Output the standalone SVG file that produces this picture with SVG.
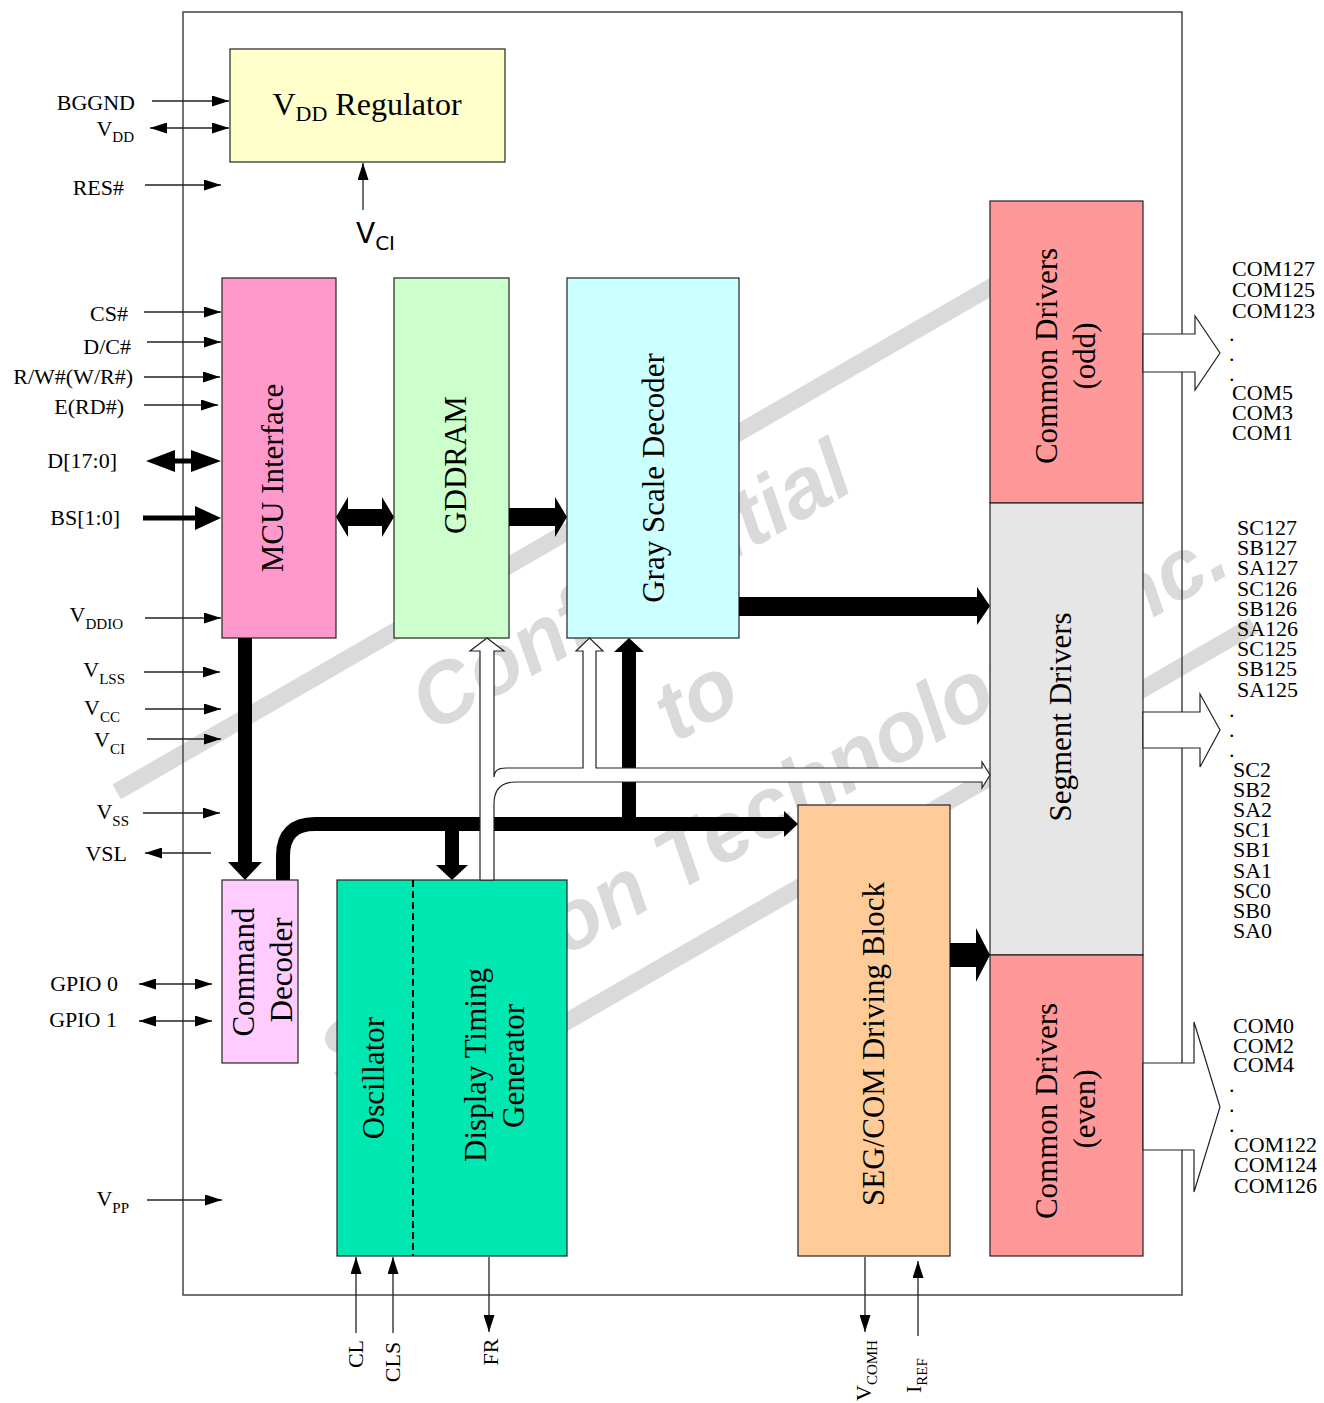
<svg xmlns="http://www.w3.org/2000/svg" width="1324" height="1403" viewBox="0 0 1324 1403">
<defs>
<marker id="ah" markerUnits="userSpaceOnUse" markerWidth="17" markerHeight="11" refX="17" refY="5.5" orient="auto-start-reverse"><path d="M0,0 L17,5.5 L0,11 z" fill="#000"/></marker>
</defs>
<style>
.t{font-family:"Liberation Serif","Times New Roman",serif;fill:#000}
.pin{font-size:22px}
.blk{font-size:31px}
.box{stroke:#222;stroke-width:1.2}
.w{stroke:#222;stroke-width:1.3;fill:none;marker-end:url(#ah)}
.wd{stroke:#222;stroke-width:1.3;fill:none;marker-end:url(#ah);marker-start:url(#ah)}
.bk{fill:#000;stroke:none}
.hol{fill:#fff;stroke:#222;stroke-width:1.2}
.wm{font-family:"Liberation Sans",Arial,sans-serif;font-weight:bold;font-style:italic;font-size:85px;fill:#dadada}
</style>
<rect width="1324" height="1403" fill="#fff"/>
<g id="watermark" transform="translate(630,585) rotate(-30)">
<rect x="-548" y="-86" width="1068" height="17" fill="#dadada"/>
<rect x="-520" y="338" width="1040" height="17" fill="#dadada"/>
<text class="wm" x="0" y="30" text-anchor="middle">Confidential</text>
<text class="wm" x="0" y="160" text-anchor="middle">to</text>
<text class="wm" x="14" y="290" text-anchor="middle" font-size="80">Solomon Technology Inc.</text>
</g>
<g id="chip"><rect x="183" y="12" width="999" height="1283" fill="none" stroke="#444" stroke-width="1.5"/></g>

<g id="vdd-regulator"><rect class="box" x="230" y="49" width="275" height="113" fill="#ffffcc"/>
<text class="t" x="367" y="115" font-size="32" text-anchor="middle">V<tspan font-size="22" dy="6">DD</tspan><tspan dy="-6"> Regulator</tspan></text></g>
<g id="mcu-interface"><rect class="box" x="222" y="278" width="114" height="360" fill="#ff99cc"/>
<text class="t blk" transform="translate(283,478) rotate(-90)" text-anchor="middle">MCU Interface</text></g>
<g id="gddram"><rect class="box" x="394" y="278" width="115" height="360" fill="#ccffcc"/>
<text class="t blk" transform="translate(466,465) rotate(-90)" text-anchor="middle">GDDRAM</text></g>
<g id="gray-scale-decoder"><rect class="box" x="567" y="278" width="172" height="360" fill="#ccffff"/>
<text class="t blk" transform="translate(664,478) rotate(-90)" text-anchor="middle">Gray Scale Decoder</text></g>
<g id="common-drivers-odd"><rect class="box" x="990" y="201" width="153" height="302" fill="#ff9999"/>
<text class="t blk" transform="translate(1057,356) rotate(-90)" text-anchor="middle">Common Drivers</text>
<text class="t blk" transform="translate(1095,356) rotate(-90)" text-anchor="middle">(odd)</text></g>
<g id="segment-drivers"><rect class="box" x="990" y="503" width="153" height="452" fill="#e6e6e6"/>
<text class="t blk" transform="translate(1071,717) rotate(-90)" text-anchor="middle">Segment Drivers</text></g>
<g id="common-drivers-even"><rect class="box" x="990" y="955" width="153" height="301" fill="#ff9999"/>
<text class="t blk" transform="translate(1057,1111) rotate(-90)" text-anchor="middle">Common Drivers</text>
<text class="t blk" transform="translate(1095,1109) rotate(-90)" text-anchor="middle">(even)</text></g>
<g id="seg-com-driving-block"><rect class="box" x="798" y="805" width="152" height="451" fill="#ffcc99"/>
<text class="t blk" transform="translate(884,1044) rotate(-90)" text-anchor="middle">SEG/COM Driving Block</text></g>
<g id="command-decoder"><rect class="box" x="222" y="880" width="76" height="183" fill="#ffccff"/>
<text class="t blk" transform="translate(254,972) rotate(-90)" text-anchor="middle">Command</text>
<text class="t blk" transform="translate(292,970) rotate(-90)" text-anchor="middle">Decoder</text></g>
<g id="oscillator-display-timing"><rect class="box" x="337" y="880" width="230" height="376" fill="#00e8b2"/>
<line x1="413" y1="880" x2="413" y2="1256" stroke="#000" stroke-width="2" stroke-dasharray="7,4"/>
<text class="t blk" transform="translate(384,1078) rotate(-90)" text-anchor="middle">Oscillator</text>
<text class="t blk" transform="translate(486,1065) rotate(-90)" text-anchor="middle">Display Timing</text>
<text class="t blk" transform="translate(524,1066) rotate(-90)" text-anchor="middle">Generator</text></g>

<g id="connectors">
<line class="w" x1="152" y1="101" x2="229" y2="101"/>
<line class="wd" x1="150" y1="128" x2="229" y2="128"/>
<line class="w" x1="145" y1="185" x2="221" y2="185"/>
<line class="w" x1="363" y1="210" x2="363" y2="163"/>
<line class="w" x1="144" y1="312" x2="221" y2="312"/>
<line class="w" x1="147" y1="342" x2="221" y2="342"/>
<line class="w" x1="144" y1="377" x2="220" y2="377"/>
<line class="w" x1="144" y1="405" x2="218" y2="405"/>
<polygon class="bk" points="146,461 175,450 175,458.5 191,458.5 191,450 221,461 191,472 191,463.5 175,463.5 175,472"/>
<polygon class="bk" points="143,515.5 195,515.5 195,506 221,518 195,530 195,520.5 143,520.5"/>
<line class="w" x1="145" y1="618" x2="221" y2="618"/>
<line class="w" x1="144" y1="672" x2="220" y2="672"/>
<line class="w" x1="145" y1="709" x2="221" y2="709"/>
<line class="w" x1="147" y1="739" x2="221" y2="739"/>
<line class="w" x1="143" y1="813" x2="220" y2="813"/>
<line class="w" x1="211" y1="853" x2="145" y2="853"/>
<line class="wd" x1="139" y1="984" x2="212" y2="984"/>
<line class="wd" x1="139" y1="1021" x2="212" y2="1021"/>
<line class="w" x1="147" y1="1200" x2="222" y2="1200"/>
<line class="w" x1="356" y1="1333" x2="356" y2="1257"/>
<line class="w" x1="393" y1="1333" x2="393" y2="1257"/>
<line class="w" x1="489" y1="1257" x2="489" y2="1332"/>
<line class="w" x1="865" y1="1257" x2="865" y2="1332"/>
<line class="w" x1="918" y1="1336" x2="918" y2="1261"/>
<polygon class="bk" points="336,517 348,497 348,509 382,509 382,497 394,517 382,537 382,526 348,526 348,537"/>
<polygon class="bk" points="509,508 555,508 555,497 567,517 555,537 555,526 509,526"/>
<polygon class="bk" points="739,597 977,597 977,587 990,606 977,625 977,616 739,616"/>
<polygon class="bk" points="238,638 252,638 252,862 262,862 245,880 228,862 238,862"/>
<path d="M283,880 V856 Q283,824 315,824 H786" fill="none" stroke="#000" stroke-width="14"/>
<polygon class="bk" points="784,811 798,824 784,837"/>
<polygon class="bk" points="445,830 459,830 459,865 468,865 452,880 436,865 445,865"/>
<polygon class="bk" points="622,818 636,818 636,652 644,652 629,638 614,652 622,652"/>
<polygon class="bk" points="950,943 976,943 976,928 990,955 976,982 976,967 950,967"/>
<path class="hol" d="M480,880 V651 H470 L487,638 L504,651 H494 V777 Q494,768 506,768 H583 V651 H576 L589.5,638 L603,651 H596 V768 H982 V762 L990,775 L982,788 V782 H516 Q494,782 494,804 V880 Z"/>
<polygon class="hol" points="1143,334 1195,334 1195,316 1220,353 1195,390 1195,372 1143,372"/>
<polygon class="hol" points="1143,712 1200,712 1200,694 1220,730 1200,767 1200,748 1143,748"/>
<polygon class="hol" points="1143,1063 1194,1063 1194,1022 1220,1107 1194,1192 1194,1150 1143,1150"/>
</g>

<g id="pin-labels" class="t pin">
<text x="135" y="110" text-anchor="end">BGGND</text>
<text x="134" y="136" text-anchor="end">V<tspan font-size="15" dy="6">DD</tspan></text>
<text x="124" y="195" text-anchor="end">RES#</text>
<text x="128" y="321" text-anchor="end">CS#</text>
<text x="131" y="354" text-anchor="end">D/C#</text>
<text x="133" y="384" text-anchor="end">R/W#(W/R#)</text>
<text x="124" y="414" text-anchor="end">E(RD#)</text>
<text x="117" y="468" text-anchor="end">D[17:0]</text>
<text x="120" y="525" text-anchor="end">BS[1:0]</text>
<text x="123" y="622" text-anchor="end">V<tspan font-size="15" dy="7">DDIO</tspan></text>
<text x="125" y="677" text-anchor="end">V<tspan font-size="15" dy="7">LSS</tspan></text>
<text x="120" y="715" text-anchor="end">V<tspan font-size="15" dy="7">CC</tspan></text>
<text x="125" y="747" text-anchor="end">V<tspan font-size="15" dy="7">CI</tspan></text>
<text x="129" y="819" text-anchor="end">V<tspan font-size="15" dy="7">SS</tspan></text>
<text x="127" y="861" text-anchor="end">VSL</text>
<text x="118" y="991" text-anchor="end">GPIO 0</text>
<text x="117" y="1027" text-anchor="end">GPIO 1</text>
<text x="129" y="1206" text-anchor="end">V<tspan font-size="15" dy="7">PP</tspan></text>
<text x="356" y="243" font-family="'DejaVu Sans',sans-serif" font-size="28">V<tspan font-size="20" dy="7">CI</tspan></text>
<text transform="translate(363,1354) rotate(-90)" text-anchor="middle">CL</text>
<text transform="translate(400,1362) rotate(-90)" text-anchor="middle">CLS</text>
<text transform="translate(498,1352) rotate(-90)" text-anchor="middle">FR</text>
<text transform="translate(871,1401) rotate(-90)">V<tspan font-size="15" dy="6">COMH</tspan></text>
<text transform="translate(921,1393) rotate(-90)">I<tspan font-size="15" dy="6">REF</tspan></text>
</g>
<g id="right-labels" class="t pin">
<text x="1232" y="276">COM127</text><text x="1232" y="297">COM125</text><text x="1232" y="318">COM123</text>
<text x="1229" y="341">.</text><text x="1229" y="361">.</text><text x="1229" y="381">.</text>
<text x="1232" y="400">COM5</text><text x="1232" y="420">COM3</text><text x="1232" y="440">COM1</text>
<text x="1237" y="535">SC127</text><text x="1237" y="555">SB127</text><text x="1237" y="575">SA127</text>
<text x="1237" y="596">SC126</text><text x="1237" y="616">SB126</text><text x="1237" y="636">SA126</text>
<text x="1237" y="656">SC125</text><text x="1237" y="676">SB125</text><text x="1237" y="697">SA125</text>
<text x="1229" y="717">.</text><text x="1229" y="737">.</text><text x="1229" y="757">.</text>
<text x="1233" y="777">SC2</text><text x="1233" y="797">SB2</text><text x="1233" y="817">SA2</text>
<text x="1233" y="837">SC1</text><text x="1233" y="857">SB1</text><text x="1233" y="878">SA1</text>
<text x="1233" y="898">SC0</text><text x="1233" y="918">SB0</text><text x="1233" y="938">SA0</text>
<text x="1233" y="1033">COM0</text><text x="1233" y="1053">COM2</text><text x="1233" y="1072">COM4</text>
<text x="1229" y="1092">.</text><text x="1229" y="1112">.</text><text x="1229" y="1132">.</text>
<text x="1234" y="1152">COM122</text><text x="1234" y="1172">COM124</text><text x="1234" y="1193">COM126</text>
</g>
</svg>
